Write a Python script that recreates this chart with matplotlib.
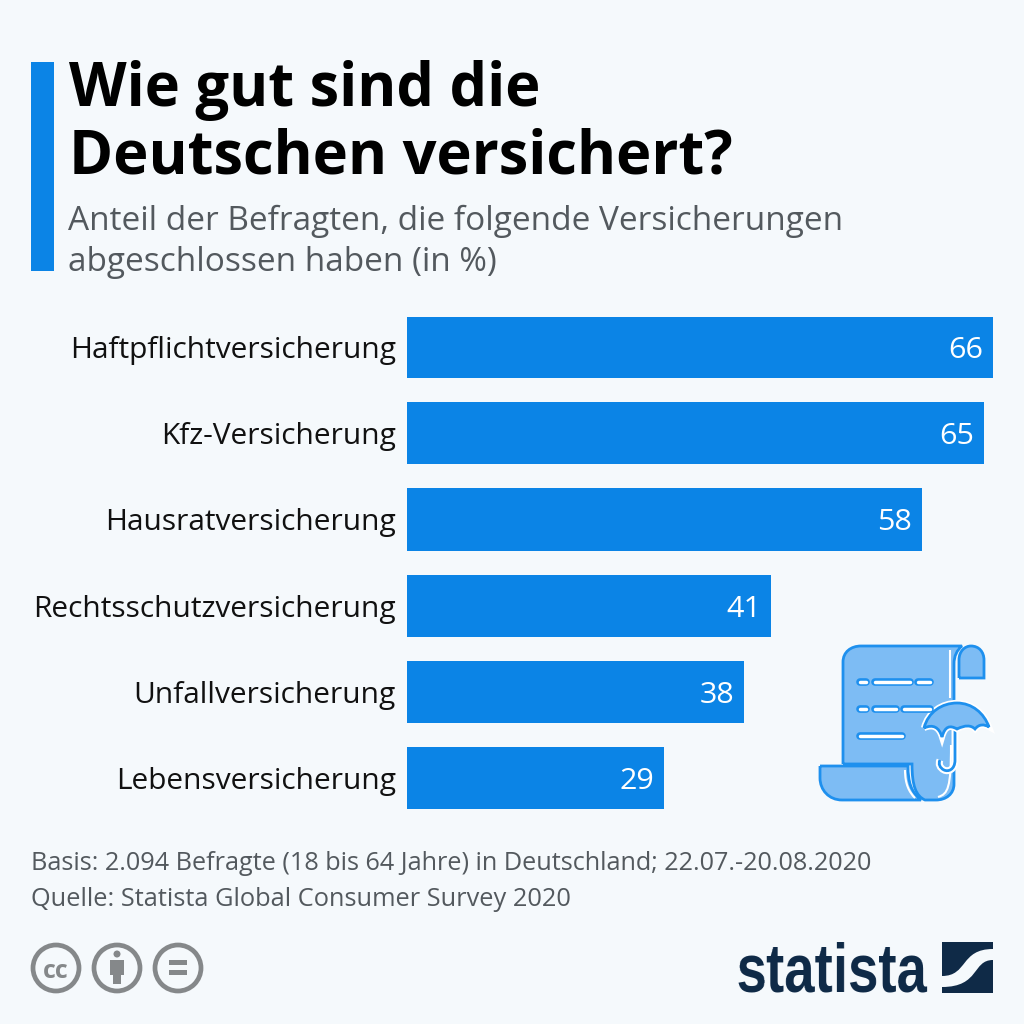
import numpy as np
import matplotlib
matplotlib.use("Agg")
import matplotlib.pyplot as plt
from matplotlib.patches import Rectangle, Circle, PathPatch
from matplotlib.path import Path

categories = ["Haftpflichtversicherung", "Kfz-Versicherung", "Hausratversicherung",
              "Rechtsschutzversicherung", "Unfallversicherung", "Lebensversicherung"]
values = [66, 65, 58, 41, 38, 29]
title_lines = ["Wie gut sind die", "Deutschen versichert?"]
subtitle_lines = ["Anteil der Befragten, die folgende Versicherungen", "abgeschlossen haben (in %)"]
source_lines = ["Basis: 2.094 Befragte (18 bis 64 Jahre) in Deutschland; 22.07.-20.08.2020",
                "Quelle: Statista Global Consumer Survey 2020"]

BG = "#f5f9fc"; BLUE = "#0b84e6"; LIGHT = "#7dbcf4"; NAVY = "#0f2a47"; GREY = "#53595e"; CC = "#85888a"
plt.rcParams["font.family"] = ["Open Sans", "DejaVu Sans"]
PX = 0.72


def shape(start, *segs):
    """Build a path from a start point and L (line) / C (cubic) segments."""
    verts, codes = [start], [Path.MOVETO]
    for seg in segs:
        if len(seg) == 1:
            verts.append(seg[0]); codes.append(Path.LINETO)
        else:
            verts.extend(seg); codes.extend([Path.CURVE4] * 3)
    return Path(verts, codes)


def squeeze(image, dpi):
    """Narrow the rendered logo word horizontally (no condensed font is installed)."""
    h, w, c = image.shape
    new_w = max(1, int(round(w * 0.80)))
    xs = np.linspace(0, w - 1, new_w)
    out = np.zeros((h, new_w, c), dtype=image.dtype)
    for row in range(h):
        for ch in range(c):
            out[row, :, ch] = np.interp(xs, np.arange(w), image[row, :, ch])
    return out, 0, 0


fig = plt.figure(figsize=(10.24, 10.24), dpi=100, facecolor=BG)
ov = fig.add_axes([0, 0, 1, 1], zorder=0)
ov.set_xlim(0, 1024); ov.set_ylim(1024, 0); ov.axis("off")

# bars
ax = fig.add_axes([407/1024, 1-834/1024, 586/1024, 517/1024], zorder=1)
ax.patch.set_alpha(0)
ax.barh(range(len(values)), values, height=0.72, color=BLUE)
ax.set_xlim(0, 66); ax.set_ylim(5.65, -0.35)
ax.set_xticks([]); ax.set_yticks(range(len(values)))
ax.set_yticklabels(categories, fontsize=29.85*PX, color="#111111")
ax.tick_params(axis="y", length=0, pad=8)
for s in ax.spines.values():
    s.set_visible(False)
for i, v in enumerate(values):
    ax.annotate(str(v), (v, i), xytext=(-10*PX, 0), textcoords="offset points",
                ha="right", va="center_baseline", color="white", fontsize=30.5*PX)

# heading
ov.add_patch(Rectangle((31, 62), 23, 209, fc=BLUE, ec="none"))
for y, t in zip([106, 173], title_lines):
    ov.text(69, y, t, fontsize=59.6*PX, fontweight="bold", color="black", va="baseline")
for y, t in zip([230, 271], subtitle_lines):
    ov.text(68, y, t, fontsize=33.4*PX, color=GREY, va="baseline")
for y, t, fs in zip([870, 906], source_lines, [25.3, 25.4]):
    ov.text(31, y, t, fontsize=fs*PX, color=GREY, va="baseline")

# licence icons
for cx in [56, 117, 178]:
    ov.add_patch(Circle((cx, 968), 23, fc="none", ec=CC, lw=3.4))
ov.text(56, 968, "cc", fontsize=25*PX, fontweight="bold", color=CC, ha="center", va="center_baseline")
ov.add_patch(Circle((117, 954), 3.5, fc=CC, ec="none"))
ov.add_patch(Rectangle((110, 960), 14, 15, fc=CC, ec="none"))
ov.add_patch(Rectangle((113, 970), 8, 14, fc=CC, ec="none"))
ov.add_patch(Rectangle((169, 960), 18, 5, fc=CC, ec="none"))
ov.add_patch(Rectangle((169, 970), 18, 5, fc=CC, ec="none"))

# statista logo
ov.text(736, 992, "statista", fontsize=68*PX, fontweight="bold", color=NAVY, va="baseline",
        family=["Liberation Sans"], agg_filter=squeeze)
ov.add_patch(Rectangle((942, 942), 51, 51, fc=NAVY, ec="none"))
band = shape((942, 976), [(968, 976), (960, 949), (993, 949)], [(993, 960)],
             [(972, 960), (980, 987), (942, 987)], [(942, 976)])
ov.add_patch(PathPatch(band, fc=BG, ec="none"))

# scroll + umbrella icon
EDGE = "#1e90ee"
sheet = shape((843, 764), [(843, 662)], [(843, 652), (851, 646), (861, 646)], [(962, 646)],
              [(957, 650), (954, 656), (954, 664)], [(954, 784)],
              [(954, 794), (946, 800), (936, 800)], [(925, 800)],
              [(916, 796), (912, 786), (912, 764)], [(843, 764)])
ov.add_patch(PathPatch(sheet, fc=LIGHT, ec=EDGE, lw=2))
curl = shape((959, 678), [(959, 660)], [(959, 651), (965, 646), (971, 646)],
             [(979, 646), (984, 652), (984, 660)], [(984, 678)], [(959, 678)])
ov.add_patch(PathPatch(curl, fc=LIGHT, ec=EDGE, lw=2))
foot = shape((820, 766), [(908, 766)], [(908, 782), (911, 792), (921, 800)], [(842, 800)],
             [(829, 800), (820, 790), (820, 778)], [(820, 766)])
ov.add_patch(PathPatch(foot, fc=LIGHT, ec=EDGE, lw=2))
ov.add_patch(PathPatch(shape((950, 650), [(950, 698)]), fc="none", ec="white", lw=1.5))
ov.add_patch(PathPatch(shape((905, 770), [(905, 784), (909, 792), (915, 798)]), fc="none", ec="white", lw=1.5))
ov.add_patch(PathPatch(shape((951, 745), [(951, 788), (948, 794), (938, 797)]), fc="none", ec="white", lw=1.5))
for y, segs in [(682, [(860, 866), (875, 910), (918, 930)]),
                (709, [(860, 866), (875, 896), (904, 930)]),
                (736, [(860, 902)])]:
    for a, b in segs:
        ov.plot([a, b], [y, y], color=EDGE, lw=5.5, solid_capstyle="round")
        ov.plot([a, b], [y, y], color="white", lw=2.5, solid_capstyle="round")
# umbrella
handle = shape((955, 728), [(955, 760)], [(955, 770), (948, 772), (944, 770)], [(940, 768), (938, 764), (940, 760)])
ov.add_patch(PathPatch(handle, fc="none", ec="white", lw=5))
ov.add_patch(PathPatch(handle, fc="none", ec=EDGE, lw=2))
canopy = shape((924, 728), [(928, 712), (942, 703), (957, 703)], [(972, 703), (984, 713), (989, 727)],
               [(984, 724), (979, 724), (975, 729)], [(971, 725), (965, 725), (957, 729)],
               [(950, 725), (945, 726), (942, 737)], [(939, 727), (933, 724), (924, 728)])
ov.add_patch(PathPatch(canopy, fc=LIGHT, ec="white", lw=4.5))
ov.add_patch(PathPatch(canopy, fc=LIGHT, ec=EDGE, lw=2))

fig.savefig("out.png", dpi=100, facecolor=BG)
